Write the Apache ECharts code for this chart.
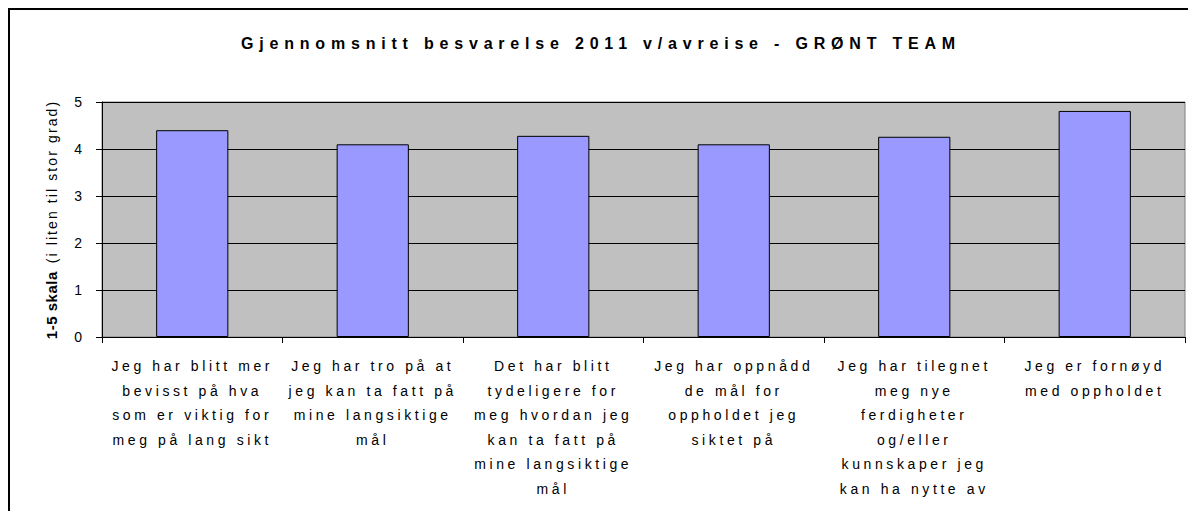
<!DOCTYPE html>
<html>
<head>
<meta charset="utf-8">
<script src="https://cdn.jsdelivr.net/npm/echarts@6/dist/echarts.min.js"></script>
<style>
  html, body { margin: 0; padding: 0; background: #fff; }
  #chart { width: 1188px; height: 511px; }
</style>
</head>
<body>
<div id="chart"></div>
<script>
  const titleText = 'Gjennomsnitt besvarelse 2011 v/avreise - GRØNT TEAM';
  const yNameBold = '1-5 skala';
  const yNameNote = '(i liten til stor grad)';
  const categories = [
    'Jeg har blitt mer\nbevisst på hva\nsom er viktig for\nmeg på lang sikt',
    'Jeg har tro på at\njeg kan ta fatt på\nmine langsiktige\nmål',
    'Det har blitt\ntydeligere for\nmeg hvordan jeg\nkan ta fatt på\nmine langsiktige\nmål',
    'Jeg har oppnådd\nde mål for\noppholdet jeg\nsiktet på',
    'Jeg har tilegnet\nmeg nye\nferdigheter\nog/eller\nkunnskaper jeg\nkan ha nytte av',
    'Jeg er fornøyd\nmed oppholdet'
  ];
  const averages = [4.40, 4.10, 4.28, 4.10, 4.26, 4.81];
  const yMin = 0, yMax = 5, yStep = 1;

  const font = "'Liberation Sans', Arial, sans-serif";
  // letter-spacing (px) per tekst, Excel-bildet har spredt skrift
  const lsTitle = 5.8, lsLabel = 3.6, lsBold = 0.5, lsNote = 2.1;

  function spaceText() {
    const lines = new Set(categories.join('\n').split('\n'));
    document.querySelectorAll('#chart text').forEach(function (t) {
      const s = t.textContent;
      let ls = 0;
      if (s === titleText) ls = lsTitle;
      else if (lines.has(s)) ls = lsLabel;
      else if (s === yNameBold) ls = lsBold;
      else if (s === yNameNote) ls = lsNote;
      t.style.letterSpacing = ls + 'px';
    });
  }

  const myChart = echarts.init(document.getElementById('chart'), null, { renderer: 'svg' });
  myChart.setOption({
    animation: false,
    textStyle: { fontFamily: font },
    title: {
      text: titleText,
      left: 601,
      top: 43,
      padding: 0,
      textAlign: 'center',
      textVerticalAlign: 'middle',
      textStyle: { fontFamily: font, fontSize: 16, fontWeight: 'bold', color: '#000' }
    },
    graphic: [{
      type: 'rect',
      silent: true,
      z: -10,
      shape: { x: 9, y: 9, width: 1300, height: 800 },
      style: { fill: 'none', stroke: '#000', lineWidth: 2 }
    }],
    grid: {
      left: 102,
      right: 3,
      top: 102,
      bottom: 174,
      show: true,
      backgroundColor: '#C0C0C0',
      borderColor: '#808080',
      borderWidth: 1
    },
    xAxis: {
      type: 'category',
      data: categories,
      axisLine: { lineStyle: { color: '#000', width: 1 } },
      axisTick: { show: true, length: 6, interval: 0, alignWithLabel: false, lineStyle: { color: '#000' } },
      axisLabel: {
        interval: 0,
        margin: 17,
        fontFamily: font,
        fontSize: 14,
        lineHeight: 24.5,
        color: '#000'
      },
      splitLine: { show: false }
    },
    yAxis: {
      type: 'value',
      min: yMin,
      max: yMax,
      interval: yStep,
      name: '{b|' + yNameBold + '}{n|' + yNameNote + '}',
      nameLocation: 'middle',
      nameGap: 43,
      nameRotate: 90,
      nameTextStyle: {
        color: '#000',
        rich: {
          b: {
            fontFamily: font, fontSize: 15, fontWeight: 'bold', color: '#000', align: 'left',
            padding: [0, 9 * lsBold + 8, 0, 0]
          },
          n: {
            fontFamily: font, fontSize: 14, color: '#000', align: 'left',
            padding: [0, 23 * lsNote, 0, 0]
          }
        }
      },
      axisLine: { show: true, lineStyle: { color: '#000', width: 1 } },
      axisTick: { show: true, length: 6, lineStyle: { color: '#000' } },
      axisLabel: { margin: 20, fontFamily: font, fontSize: 14, color: '#000' },
      splitLine: { show: true, lineStyle: { color: '#000', width: 1 } }
    },
    series: [{
      name: 'Gjennomsnitt',
      type: 'bar',
      data: averages,
      barWidth: '40%',
      itemStyle: { color: '#9999FF', borderColor: '#000', borderWidth: 1 }
    }]
  });

  myChart.on('finished', spaceText);
  spaceText();
  setTimeout(spaceText, 50);
</script>
</body>
</html>
